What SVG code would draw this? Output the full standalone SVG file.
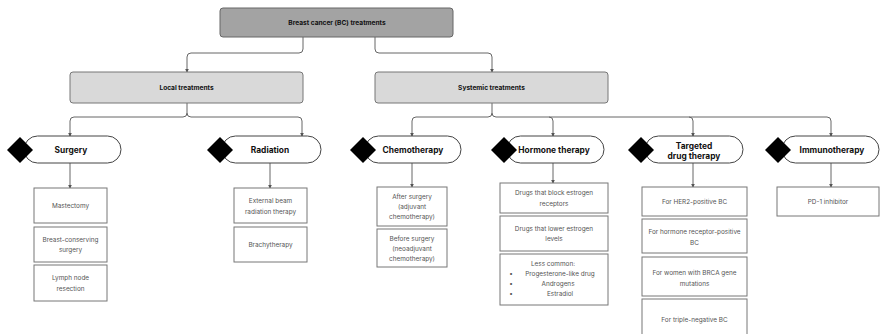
<svg xmlns="http://www.w3.org/2000/svg" width="880" height="334" viewBox="0 0 880 334">
<defs>
<marker id="ah" viewBox="0 0 6 6" refX="5" refY="3" markerWidth="4" markerHeight="4" orient="auto">
<path d="M0,0 L6,3 L0,6 Z" fill="#555"/>
</marker>
<style>
.c{fill:none;stroke:#666;stroke-width:1;marker-end:url(#ah)}
.top{fill:#a3a3a3;stroke:#666;stroke-width:1}
.l2{fill:#d9d9d9;stroke:#777;stroke-width:1}
.pill{fill:#fff;stroke:#444;stroke-width:1}
.dia{fill:#000}
.box{fill:#fff;stroke:#777;stroke-width:1}
.h{font-family:Inter,"Liberation Sans",sans-serif;font-weight:700;fill:#111;text-anchor:middle;dominant-baseline:central}
.t1{font-size:6.6px}
.t2{font-size:8.4px}
.s{font-family:Inter,"Liberation Sans",sans-serif;font-size:6.4px;fill:#555;text-anchor:middle;dominant-baseline:central}
</style>
</defs>
<rect width="880" height="334" fill="#fff"/>
<g id="connectors">
<path class="c" d="M303,37 V49 Q303,53 299,53 H191 Q187,53 187,57 V72"/>
<path class="c" d="M375,37 V49 Q375,53 379,53 H488 Q492,53 492,57 V72"/>
<path class="c" d="M187,103 V113 Q187,117 183,117 H74 Q70,117 70,121 V136"/>
<path class="c" d="M187,113 Q187,117 191,117 H298 Q302,117 302,121 V136"/>
<path class="c" d="M492,103 V113 Q492,117 488,117 H416 Q412,117 412,121 V136"/>
<path class="c" d="M492,113 Q492,117 496,117 H827 Q831,117 831,121 V136"/>
<path class="c" d="M549,117 Q553,117 553,121 V136"/>
<path class="c" d="M689,117 Q693,117 693,121 V136"/>
<path class="c" d="M70,163 V188"/>
<path class="c" d="M270,163 V188"/>
<path class="c" d="M412,163 V187"/>
<path class="c" d="M553,163 V183"/>
<path class="c" d="M693,163 V187"/>
<path class="c" d="M831,163 V187"/>
</g>
<g id="root">
<rect class="top" x="220" y="8" width="233" height="29" rx="3"/>
<text class="h t1" x="337" y="22.5">Breast cancer (BC) treatments</text>
</g>
<g id="local">
<rect class="l2" x="70" y="72" width="233" height="31" rx="3"/>
<text class="h t1" x="186.5" y="87.5">Local treatments</text>
</g>
<g id="systemic">
<rect class="l2" x="375" y="72" width="233" height="31" rx="3"/>
<text class="h t1" x="491.5" y="87.5">Systemic treatments</text>
</g>
<g id="surgery">
<rect class="pill" x="24" y="136" width="97" height="27" rx="13.5"/>
<path class="dia" d="M20,137 L33,150 L20,163 L7,150 Z"/>
<text class="h t2" x="71" y="150">Surgery</text>
</g>
<g id="radiation">
<rect class="pill" x="222" y="136" width="99" height="27" rx="13.5"/>
<path class="dia" d="M220,137 L233,150 L220,163 L207,150 Z"/>
<text class="h t2" x="270" y="150">Radiation</text>
</g>
<g id="chemotherapy">
<rect class="pill" x="365" y="136" width="96" height="27" rx="13.5"/>
<path class="dia" d="M363,137 L376,150 L363,163 L350,150 Z"/>
<text class="h t2" x="413" y="150">Chemotherapy</text>
</g>
<g id="hormone">
<rect class="pill" x="507" y="136" width="97" height="27" rx="13.5"/>
<path class="dia" d="M504,137 L517,150 L504,163 L491,150 Z"/>
<text class="h t2" x="554" y="150">Hormone therapy</text>
</g>
<g id="targeted">
<rect class="pill" x="645" y="136" width="98" height="27" rx="13.5"/>
<path class="dia" d="M641,137 L654,150 L641,163 L628,150 Z"/>
<text class="h t2" x="694" y="145.5">Targeted</text>
<text class="h t2" x="694" y="155.5">drug therapy</text>
</g>
<g id="immunotherapy">
<rect class="pill" x="782" y="136" width="97" height="27" rx="13.5"/>
<path class="dia" d="M778,137 L791,150 L778,163 L765,150 Z"/>
<text class="h t2" x="832" y="150">Immunotherapy</text>
</g>
<g id="mastectomy">
<rect class="box" x="34" y="188" width="73" height="35"/>
<text class="s" x="70.5" y="206">Mastectomy</text>
</g>
<g id="breast-conserving">
<rect class="box" x="34" y="227" width="73" height="35"/>
<text class="s" x="70.5" y="239.5">Breast-conserving</text>
<text class="s" x="70.5" y="250">surgery</text>
</g>
<g id="lymph">
<rect class="box" x="34" y="265" width="73" height="36"/>
<text class="s" x="70.5" y="278">Lymph node</text>
<text class="s" x="70.5" y="288.5">resection</text>
</g>
<g id="external">
<rect class="box" x="234" y="188" width="73" height="35"/>
<text class="s" x="270.5" y="201">External beam</text>
<text class="s" x="270.5" y="211.5">radiation therapy</text>
</g>
<g id="brachy">
<rect class="box" x="234" y="227" width="73" height="35"/>
<text class="s" x="270.5" y="245">Brachytherapy</text>
</g>
<g id="after">
<rect class="box" x="377" y="187" width="70" height="39"/>
<text class="s" x="412" y="197">After surgery</text>
<text class="s" x="412" y="207">(adjuvant</text>
<text class="s" x="412" y="217">chemotherapy)</text>
</g>
<g id="before">
<rect class="box" x="377" y="229" width="70" height="38"/>
<text class="s" x="412" y="238.5">Before surgery</text>
<text class="s" x="412" y="248.5">(neoadjuvant</text>
<text class="s" x="412" y="258.5">chemotherapy)</text>
</g>
<g id="block">
<rect class="box" x="500" y="183" width="108" height="30"/>
<text class="s" x="554" y="193">Drugs that block estrogen</text>
<text class="s" x="554" y="204">receptors</text>
</g>
<g id="lower">
<rect class="box" x="500" y="216" width="108" height="35"/>
<text class="s" x="554" y="228.5">Drugs that lower estrogen</text>
<text class="s" x="554" y="239">levels</text>
</g>
<g id="less-common">
<rect class="box" x="500" y="254" width="108" height="51"/>
<text class="s" x="553" y="264">Less common:</text>
<text class="s" x="511" y="274">•</text>
<text class="s" x="560" y="274">Progesterone-like drug</text>
<text class="s" x="511" y="284">•</text>
<text class="s" x="558" y="284">Androgens</text>
<text class="s" x="511" y="294">•</text>
<text class="s" x="560" y="294">Estradiol</text>
</g>
<g id="her2">
<rect class="box" x="642" y="187" width="105" height="29"/>
<text class="s" x="694.5" y="202">For HER2-positive BC</text>
</g>
<g id="hr-positive">
<rect class="box" x="642" y="219" width="105" height="34"/>
<text class="s" x="694.5" y="232">For hormone receptor-positive</text>
<text class="s" x="694.5" y="243">BC</text>
</g>
<g id="brca">
<rect class="box" x="642" y="257" width="105" height="39"/>
<text class="s" x="694.5" y="273">For women with BRCA gene</text>
<text class="s" x="694.5" y="283.5">mutations</text>
</g>
<g id="triple-negative">
<rect class="box" x="642" y="299" width="105" height="42"/>
<text class="s" x="694.5" y="320">For triple-negative BC</text>
</g>
<g id="pd1">
<rect class="box" x="777" y="187" width="102" height="29"/>
<text class="s" x="828" y="202">PD-1 inhibitor</text>
</g>
</svg>
